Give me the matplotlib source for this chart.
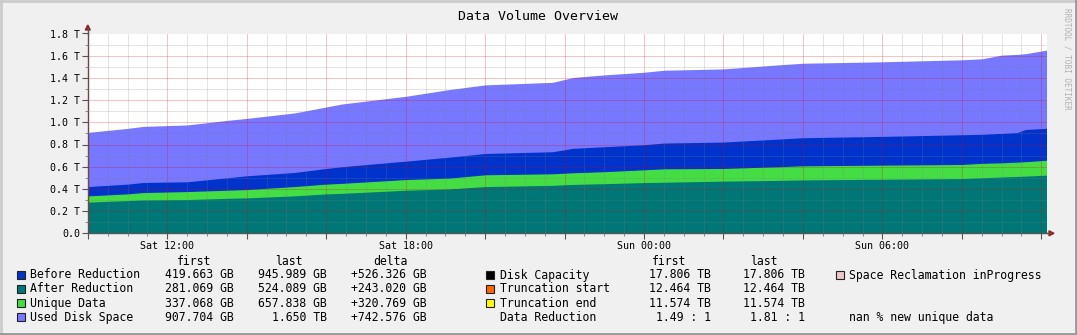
import numpy as np
import matplotlib
matplotlib.use("Agg")
import matplotlib.pyplot as plt
from matplotlib.patches import Rectangle, Polygon
from matplotlib.ticker import MultipleLocator, FuncFormatter

# hours since Sat 10:00
hours = [0, 1, 1.4, 2.5, 3.5, 4, 5.2, 6, 6.4, 8, 9.1, 10, 11.7, 12.2, 13, 14, 14.5,
         16, 17.4, 18, 20, 22, 22.5, 23, 23.4, 23.6, 24.13]
used_disk = [0.909, 0.945, 0.963, 0.976, 1.017, 1.035, 1.084, 1.138, 1.165, 1.234, 1.295,
             1.337, 1.36, 1.403, 1.427, 1.451, 1.469, 1.481, 1.518, 1.532, 1.545, 1.563,
             1.572, 1.605, 1.612, 1.618, 1.650]
before_red = [0.421, 0.443, 0.458, 0.464, 0.50, 0.518, 0.548, 0.584, 0.60, 0.650, 0.686,
              0.719, 0.735, 0.765, 0.78, 0.798, 0.813, 0.822, 0.849, 0.861, 0.873, 0.888,
              0.892, 0.90, 0.909, 0.935, 0.946]
unique_data = [0.337, 0.355, 0.367, 0.376, 0.388, 0.394, 0.421, 0.443, 0.45, 0.484, 0.497,
               0.527, 0.536, 0.545, 0.555, 0.572, 0.581, 0.584, 0.60, 0.608, 0.614, 0.620,
               0.63, 0.635, 0.641, 0.645, 0.658]
after_red = [0.281, 0.295, 0.301, 0.304, 0.315, 0.319, 0.337, 0.355, 0.36, 0.388, 0.400,
             0.421, 0.432, 0.440, 0.447, 0.457, 0.46, 0.470, 0.477, 0.481, 0.487, 0.493,
             0.50, 0.507, 0.512, 0.515, 0.524]

xtick_labels = {2: "Sat 12:00", 8: "Sat 18:00", 14: "Sun 00:00", 20: "Sun 06:00"}

left_names = ["Before Reduction", "After Reduction", "Unique Data", "Used Disk Space"]
left_first = ["419.663 GB", "281.069 GB", "337.068 GB", "907.704 GB"]
left_last = ["945.989 GB", "524.089 GB", "657.838 GB", "1.650 TB"]
left_delta = ["+526.326 GB", "+243.020 GB", "+320.769 GB", "+742.576 GB"]
left_colors = ["#0033CC", "#007777", "#44DD44", "#7777FF"]

right_names = ["Disk Capacity", "Truncation start", "Truncation end", "Data Reduction"]
right_first = ["17.806 TB", "12.464 TB", "11.574 TB", "1.49 : 1"]
right_last = ["17.806 TB", "12.464 TB", "11.574 TB", "1.81 : 1"]
right_colors = ["#000000", "#FF6600", "#FFFF00", None]

W, H = 1077, 335
MONO = "DejaVu Sans Mono"
fig = plt.figure(figsize=(W / 100, H / 100), dpi=100, facecolor="#F0F0F0")

def fx(x): return x / W
def fy(y): return 1 - y / H

# frame
fig.add_artist(plt.Line2D([fx(1), fx(1)], [0, 1], color="#CBCBCB", lw=2, transform=fig.transFigure))
fig.add_artist(plt.Line2D([0, 1], [fy(1), fy(1)], color="#CBCBCB", lw=2, transform=fig.transFigure))
fig.add_artist(plt.Line2D([fx(W - 1), fx(W - 1)], [0, 1], color="#999999", lw=2, transform=fig.transFigure))
fig.add_artist(plt.Line2D([0, 1], [fy(H - 1), fy(H - 1)], color="#999999", lw=2, transform=fig.transFigure))

x0, x1, ytop, ybot = 87.8, 1046.5, 33.5, 233.3
ax = fig.add_axes([fx(x0), fy(ybot), fx(x1 - x0), (ybot - ytop) / H])
ax.set_facecolor("white")

ax.fill_between(hours, 0, used_disk, color="#7777FF", lw=0)
ax.fill_between(hours, 0, before_red, color="#0033CC", lw=0)
ax.fill_between(hours, 0, unique_data, color="#44DD44", lw=0)
ax.fill_between(hours, 0, after_red, color="#007777", lw=0)

ax.set_xlim(0, 24.13)
ax.set_ylim(0, 1.8)
ax.xaxis.set_major_locator(MultipleLocator(2))
ax.xaxis.set_minor_locator(MultipleLocator(0.5))
ax.yaxis.set_major_locator(MultipleLocator(0.2))
ax.yaxis.set_minor_locator(MultipleLocator(0.1))
ax.xaxis.set_major_formatter(FuncFormatter(lambda v, p: xtick_labels.get(int(round(v)), "")))
ax.yaxis.set_major_formatter(FuncFormatter(lambda v, p: "0.0" if abs(v) < 1e-6 else f"{v:.1f} T"))
ax.set_axisbelow(False)
ax.grid(which="minor", color="#808080", alpha=0.25, lw=0.6)
ax.grid(which="major", color="#E00000", alpha=0.28, lw=0.6)
ax.tick_params(which="major", direction="out", length=4, width=0.8, color="#555555",
               labelsize=7.2, labelcolor="black", pad=1.5)
ax.tick_params(which="minor", direction="out", length=2, width=0.6, color="#777777")
for lab in ax.get_xticklabels() + ax.get_yticklabels():
    lab.set_fontfamily(MONO)
for s in ["top", "right"]:
    ax.spines[s].set_visible(False)
for s in ["left", "bottom"]:
    ax.spines[s].set_color("#555555")
    ax.spines[s].set_linewidth(1)

# axis arrows
fig.add_artist(plt.Line2D([fx(x0), fx(x0)], [fy(ytop), fy(28)], color="#555555", lw=1, transform=fig.transFigure))
fig.add_artist(plt.Line2D([fx(x1), fx(1050)], [fy(ybot), fy(ybot)], color="#555555", lw=1, transform=fig.transFigure))
fig.add_artist(Polygon([[fx(x0 - 2.5), fy(30)], [fx(x0 + 2.5), fy(30)], [fx(x0), fy(25)]],
                       closed=True, color="#992222", transform=fig.transFigure))
fig.add_artist(Polygon([[fx(1049), fy(ybot - 2.5)], [fx(1049), fy(ybot + 2.5)], [fx(1054), fy(ybot)]],
                       closed=True, color="#992222", transform=fig.transFigure))

fig.text(fx(538), fy(16), "Data Volume Overview", family=MONO, fontsize=9.5, ha="center", va="center")
fig.text(fx(1067), fy(8), "RRDTOOL / TOBI OETIKER", family=MONO, fontsize=5.5, color="#B0B0B0",
         rotation=-90, ha="center", va="top")

fs = 8.3
row_y = [275, 289, 303.3, 317.3]
head_y = 261.7

def box(x, y, c):
    fig.add_artist(Rectangle((fx(x), fy(y + 4)), 8 / W, 8 / H, facecolor=c, edgecolor="#222222",
                             lw=0.8, transform=fig.transFigure))

for hx, ht in [(194.6, "first"), (289.3, "last"), (390, "delta"), (669.6, "first"), (764.3, "last")]:
    fig.text(fx(hx), fy(head_y), ht, family=MONO, fontsize=fs, ha="center", va="center")

for i, y in enumerate(row_y):
    box(16.5, y, left_colors[i])
    fig.text(fx(30.3), fy(y), left_names[i], family=MONO, fontsize=fs, va="center")
    fig.text(fx(234.2), fy(y), left_first[i], family=MONO, fontsize=fs, va="center", ha="right")
    fig.text(fx(327.1), fy(y), left_last[i], family=MONO, fontsize=fs, va="center", ha="right")
    fig.text(fx(427), fy(y), left_delta[i], family=MONO, fontsize=fs, va="center", ha="right")
    if right_colors[i] is not None:
        box(486.2, y, right_colors[i])
    fig.text(fx(500), fy(y), right_names[i], family=MONO, fontsize=fs, va="center")
    fig.text(fx(710.9), fy(y), right_first[i], family=MONO, fontsize=fs, va="center", ha="right")
    fig.text(fx(805), fy(y), right_last[i], family=MONO, fontsize=fs, va="center", ha="right")

box(835.6, row_y[0], "#F0C8C8")
fig.text(fx(849.3), fy(row_y[0]), "Space Reclamation inProgress", family=MONO, fontsize=fs, va="center")
fig.text(fx(849.3), fy(row_y[3]), "nan % new unique data", family=MONO, fontsize=fs, va="center")

fig.savefig("out.png", dpi=100, facecolor=fig.get_facecolor())
